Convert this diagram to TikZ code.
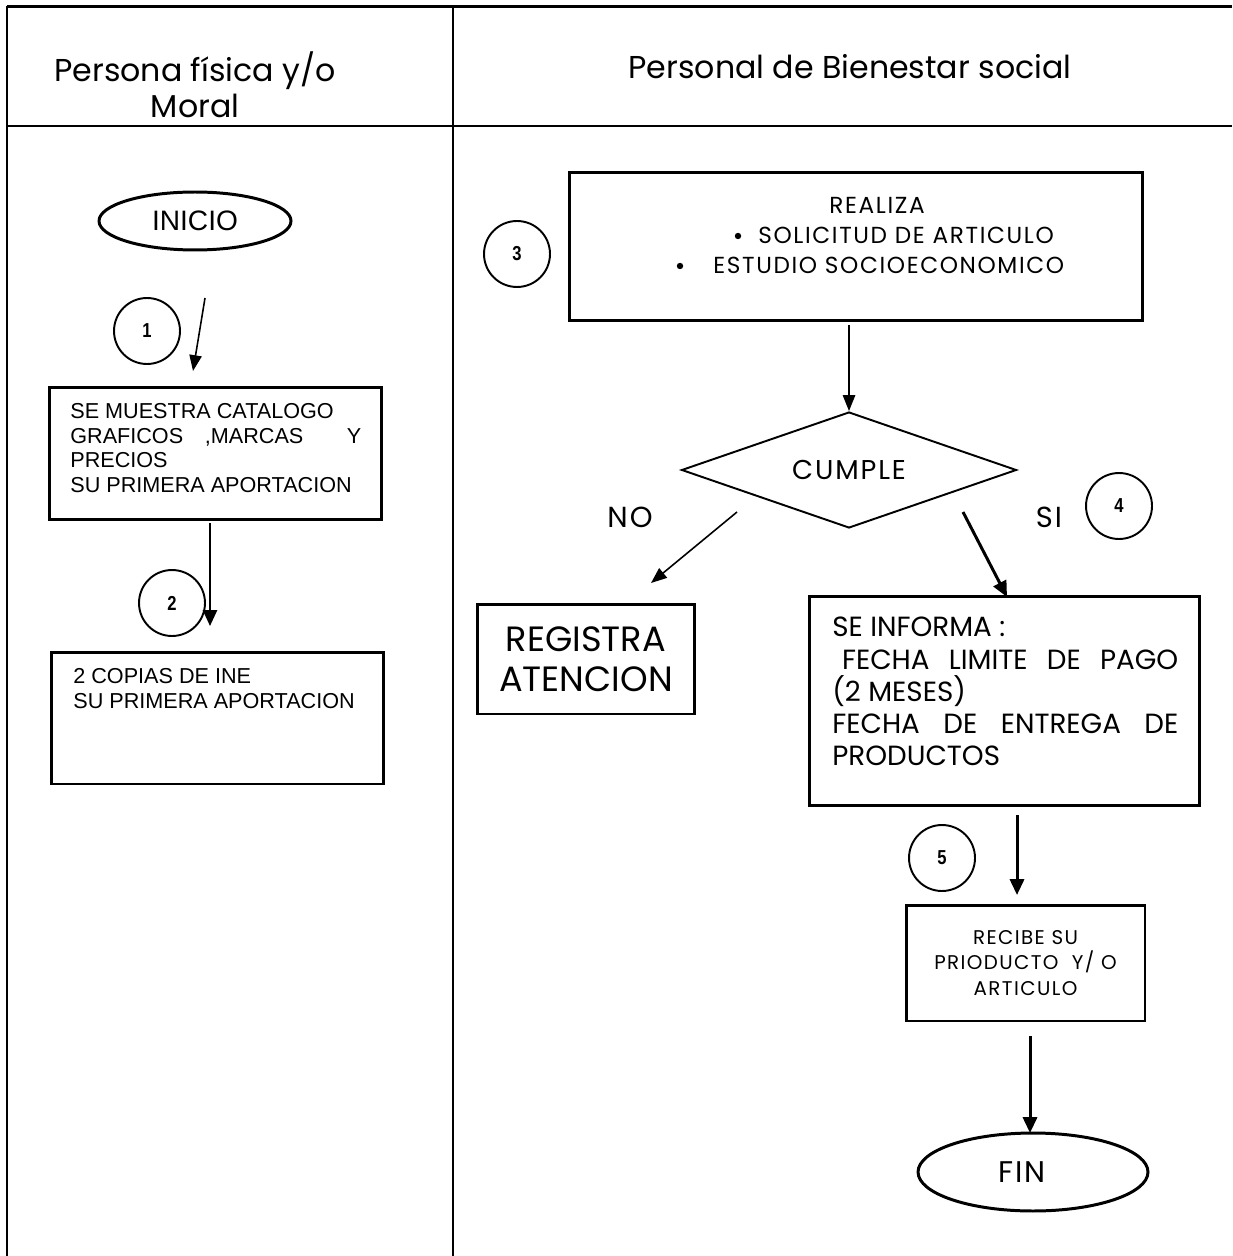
\documentclass[tikz,border=0pt]{standalone}
\usepackage{fontspec}
\setmainfont{Liberation Sans}
\newfontfamily\mont{Poppins}
\newfontfamily\montc{Poppins}[LetterSpace=7]
\usetikzlibrary{arrows.meta,shapes.geometric}
\tikzset{
  tline/.style={line width=1.2pt},
  box/.style={draw,line width=1.7pt,rectangle,inner sep=0pt},
  num/.style={draw,circle,line width=1.1pt,minimum size=1.32cm,inner sep=0pt,font=\bfseries\fontsize{11.5}{12}\selectfont},
  term/.style={draw,ellipse,line width=1.7pt,inner sep=0pt},
  thinarr/.style={line width=0.9pt,-{Triangle[length=9pt,width=7pt]}},
  thickarr/.style={line width=1.7pt,-{Triangle[length=9pt,width=8pt]}},
}
\newcommand{\nrw}[1]{\scalebox{0.82}[1]{#1}}
\begin{document}
\begin{tikzpicture}[x=0.02cm,y=-0.02cm]
\useasboundingbox (0,0) rectangle (1232,1256);
% table
\draw[tline] (7,6.5) -- (1232,6.5);
\draw[tline] (7,126) -- (1232,126);
\draw[tline] (7,6.5) -- (7,1256);
\draw[tline] (453,6.5) -- (453,1256);
\node[align=center,font=\mont\fontsize{18}{20.5}\selectfont] (h1) at (195,85) {Persona física y/o\\Moral};
\node[font=\mont\fontsize{18}{20.5}\selectfont] (h2) at (850,67) {Personal de Bienestar social};
% left lane
\node[term,minimum width=3.84cm,minimum height=1.16cm,font=\fontsize{16}{18}\selectfont] (inicio) at (195,221) {INICIO};
\node[num] (n1) at (147,331) {\nrw{1}};
\coordinate (a1s) at (205,298);
\coordinate (a1e) at (193,371);
\draw[thinarr] (a1s) -- (a1e);
\node[box,minimum width=6.66cm,minimum height=2.66cm] (b1) at (215.5,453.5) {};
\node[anchor=north west,align=left,font=\fontsize{12.3}{14}\selectfont,inner sep=0pt] (t1) at (70,403) {SE MUESTRA CATALOGO\\\makebox[5.82cm][s]{GRAFICOS\hskip 0pt plus 1fil,MARCAS\hskip 0pt plus 2fil Y}\\PRECIOS\\SU PRIMERA APORTACION};
\node[num] (n2) at (172,603) {\nrw{2}};
\coordinate (a2s) at (210,523);
\coordinate (a2e) at (210,626);
\draw[thickarr,line width=1.2pt] (a2s) -- (a2e);
\node[box,minimum width=6.66cm,minimum height=2.64cm] (b2) at (217.5,718) {};
\node[anchor=north west,align=left,font=\fontsize{12.3}{14}\selectfont,inner sep=0pt] (t2) at (73,668) {2 COPIAS DE INE\\SU PRIMERA APORTACION};
% right lane
\node[num] (n3) at (517,254) {\nrw{3}};
\node[box,minimum width=11.48cm,minimum height=2.98cm] (b3) at (856,246.5) {};
\node[font=\montc\fontsize{13.2}{15}\selectfont] (t3a) at (877,205) {REALIZA};
\node[font=\montc\fontsize{13.2}{15}\selectfont,anchor=west,inner sep=0pt] (t3b) at (758,235) {SOLICITUD DE ARTICULO};
\node[font=\montc\fontsize{13.2}{15}\selectfont,anchor=west,inner sep=0pt] (t3c) at (713,265) {ESTUDIO SOCIOECONOMICO};
\fill (738,236) circle (3.2);
\fill (680,266) circle (3.2);
\node[diamond,draw,line width=1.1pt,minimum width=6.7cm,minimum height=2.32cm,inner sep=0pt,aspect=2.9,font=\montc\fontsize{15.5}{17}\selectfont] (d) at (849,470) {CUMPLE};
\coordinate (a3s) at (849,325);
\draw[thinarr] (a3s) -- (d.north);
\node[font=\montc\fontsize{16.5}{18}\selectfont] (no) at (630,517) {NO};
\node[font=\montc\fontsize{16.5}{18}\selectfont] (si) at (1049,517) {SI};
\node[num] (n4) at (1119,506) {\nrw{4}};
\coordinate (anos) at (737,512);
\coordinate (anoe) at (651,583);
\draw[thinarr] (anos) -- (anoe);
\coordinate (asis) at (963,512);
\coordinate (asie) at (1007,597);
\draw[thickarr] (asis) -- (asie);
\node[box,minimum width=4.36cm,minimum height=2.2cm,align=center,font=\mont\fontsize{20}{23}\selectfont] (reg) at (586,659) {REGISTRA\\ATENCION};
\node[box,minimum width=7.82cm,minimum height=4.2cm] (inf) at (1004.5,701) {};
\node[anchor=north west,inner sep=0pt,font=\mont\fontsize{15.8}{18.3}\selectfont,align=left] (tinf) at (832,617) {SE INFORMA :\\\makebox[6.92cm][s]{\hspace*{0.35em}FECHA LIMITE DE PAGO}\\(2 MESES)\\\makebox[6.92cm][s]{FECHA DE ENTREGA DE}\\PRODUCTOS};
\node[num] (n5) at (942,858) {\nrw{5}};
\coordinate (a5s) at (1017,815);
\draw[thickarr] (a5s) -- ++(0,80) coordinate (a5e);
\node[box,minimum width=4.78cm,minimum height=2.32cm,align=center,font=\montc\fontsize{11.3}{14.7}\selectfont] (rec) at (1025.5,963) {RECIBE SU\\PRIODUCTO\ \ Y/ O\\ARTICULO};
\coordinate (a6s) at (1030,1036);
\coordinate (a6e) at (1030,1133);
\draw[thickarr] (a6s) -- (a6e);
\node[term,minimum width=4.6cm,minimum height=1.56cm,font=\montc\fontsize{17}{18}\selectfont] (fin) at (1033,1172) {FIN\hspace*{0.44cm}};
\end{tikzpicture}
\end{document}
